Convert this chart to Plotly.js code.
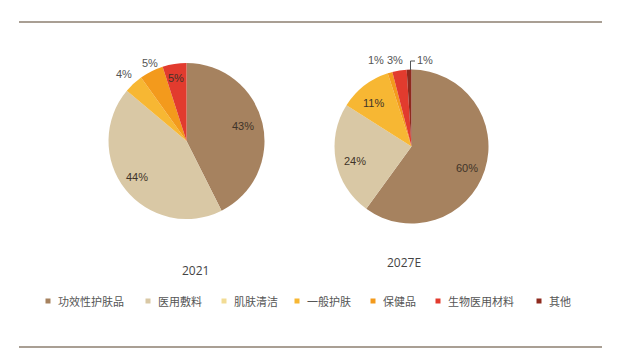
<!DOCTYPE html>
<html>
<head>
<meta charset="utf-8">
<script src="https://cdn.plot.ly/plotly-3.0.1.min.js"></script>
<style>html,body{margin:0;padding:0;background:#fff;}#chart{width:618px;height:360px;}</style>
</head>
<body>
<div id="chart"></div>
<script>
// ---- data ----
var categories = ['功效性护肤品', '医用敷料', '肌肤清洁', '一般护肤', '保健品', '生物医用材料', '其他'];
var values2021 = [43, 44, 0, 4, 5, 5, 0];
var values2027 = [60, 24, 0, 11, 1, 3, 1];
var pieTitles = ['2021', '2027E'];
var colors = ['#a6825f', '#d9c8a5', '#f2dc95', '#f7b733', '#f39a1c', '#e23b2e', '#8e2a1e'];

// ---- layout constants ----
var W = 618, H = 360;
var legendX = [48, 148, 224, 297, 373, 438, 539];
// label positions (pixels): [seriesIndex, categoryIndex, x, y, inside?]
var labelPos = [
  [0, 0, 243, 126, 1], [0, 1, 137, 177, 1], [0, 5, 176, 78, 1],
  [0, 3, 124, 74, 0], [0, 4, 150, 63, 0],
  [1, 0, 467, 168, 1], [1, 1, 355, 161, 1], [1, 3, 373, 103, 1],
  [1, 4, 376, 60, 0], [1, 5, 395, 60, 0], [1, 6, 425, 60, 0]
];

function pie(vals, dom) {
  return {
    type: 'pie', values: vals, labels: categories, sort: false, direction: 'clockwise', rotation: 0,
    marker: {colors: colors, line: {width: 0}},
    textinfo: 'none', hoverinfo: 'none', showlegend: false, domain: dom, automargin: false
  };
}

var data = [
  pie(values2021, {x: [108.5 / W, 264.5 / W], y: [1 - 219 / H, 1 - 63 / H]}),
  pie(values2027, {x: [334.5 / W, 488.5 / W], y: [1 - 223.5 / H, 1 - 69.5 / H]})
];
var seriesVals = [values2021, values2027];

function px(x) { return x / W; }
function py(y) { return 1 - y / H; }

var shapes = [
  {type: 'line', xref: 'paper', yref: 'paper', x0: px(19), x1: px(602), y0: py(22), y1: py(22), line: {color: '#8c7f70', width: 1.5}},
  {type: 'line', xref: 'paper', yref: 'paper', x0: px(19), x1: px(602), y0: py(347), y1: py(347), line: {color: '#8c7f70', width: 1.5}},
  {type: 'line', xref: 'paper', yref: 'paper', x0: px(410.5), x1: px(410.5), y0: py(70), y1: py(61), line: {color: '#555', width: 1}},
  {type: 'line', xref: 'paper', yref: 'paper', x0: px(410.5), x1: px(415), y0: py(61), y1: py(61), line: {color: '#555', width: 1}}
];

var annotations = [
  {text: pieTitles[0], x: px(180), y: py(270), xref: 'paper', yref: 'paper', yanchor: 'middle', showarrow: false, font: {family: 'Open Sans, sans-serif', size: 12, color: '#444'}},
  {text: pieTitles[1], x: px(404), y: py(262), xref: 'paper', yref: 'paper', yanchor: 'middle', showarrow: false, font: {family: 'Open Sans, sans-serif', size: 12, color: '#444'}}
];
labelPos.forEach(function (o) {
  annotations.push({text: seriesVals[o[0]][o[1]] + '%', x: px(o[2]), y: py(o[3]), xref: 'paper', yref: 'paper',
    xanchor: 'center', yanchor: 'middle', showarrow: false,
    font: {family: 'Liberation Sans, Arial, sans-serif', size: 11, color: o[4] ? '#3f3429' : '#555'}});
});
categories.forEach(function (c, i) {
  var x = legendX[i];
  shapes.push({type: 'rect', xref: 'paper', yref: 'paper', x0: px(x - 2.5), x1: px(x + 2.5), y0: py(303.5), y1: py(298.5), fillcolor: colors[i], line: {width: 0}});
  annotations.push({text: c, x: px(x + 8), y: py(301), xref: 'paper', yref: 'paper', xanchor: 'left', yanchor: 'middle', showarrow: false,
    font: {family: 'Noto Sans CJK SC, sans-serif', size: 11, color: '#555'}});
});

var layout = {
  width: W, height: H, margin: {l: 0, r: 0, t: 0, b: 0},
  paper_bgcolor: '#fff', plot_bgcolor: '#fff', showlegend: false,
  shapes: shapes, annotations: annotations
};
Plotly.newPlot('chart', data, layout, {displayModeBar: false, staticPlot: true});
</script>
</body>
</html>
